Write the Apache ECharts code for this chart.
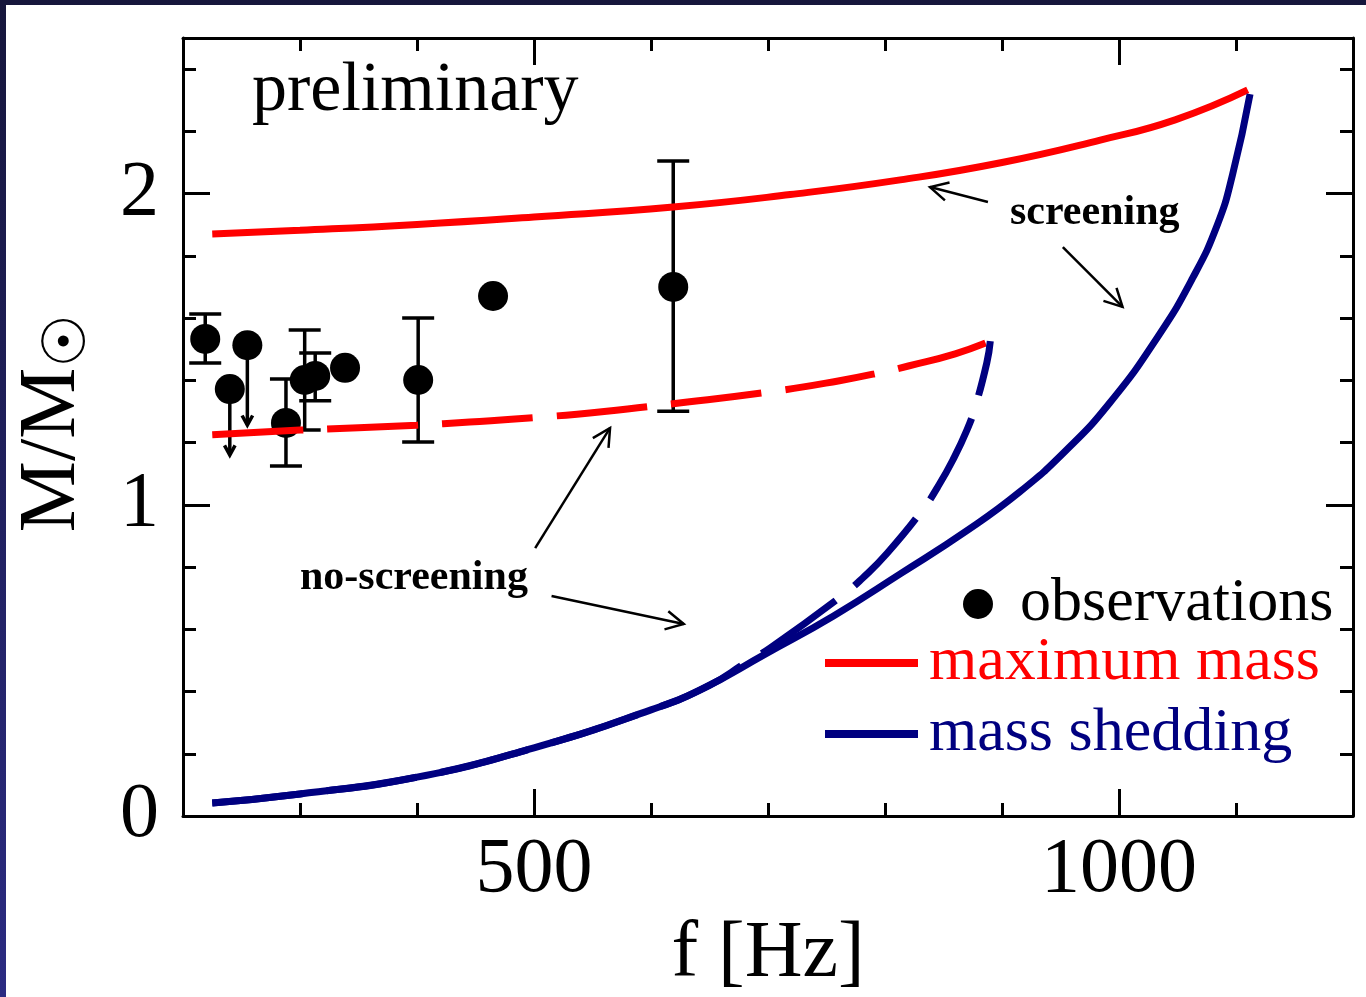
<!DOCTYPE html>
<html>
<head>
<meta charset="utf-8">
<title>M/M vs f</title>
<script src="https://cdn.jsdelivr.net/npm/echarts@6/dist/echarts.min.js"></script>
<style>
    html, body {
        margin: 0;
        padding: 0;
        width: 1366px;
        height: 997px;
        overflow: hidden;
        background: linear-gradient(to bottom, #16163c, #2b2b82);
    }
    #paper {
        position: absolute;
        left: 6px;
        top: 5px;
        width: 1360px;
        height: 992px;
        background: #fff;
    }
    #chart {
        position: absolute;
        left: 0;
        top: 0;
        width: 1366px;
        height: 997px;
    }
</style>
</head>
<body>
<div id="paper"></div>
<div id="chart"></div>
<script>
// axis ticks and labels
const xMinorTicks = [300, 400, 600, 700, 800, 900, 1100];
const xMajorTicks = [500, 1000];
const xLabels = [500, 1000];
const yMinorTicks = [0.2, 0.4, 0.6, 0.8, 1.2, 1.4, 1.6, 1.8, 2.2, 2.4];
const yMajorTicks = [1, 2];
const yLabels = [0, 1, 2];

// maximum mass, with screening (solid) and without (dashed)
const maxMassF = [225, 300, 400, 500, 619, 719, 813, 900, 984, 1048, 1110];
const maxMassM = [1.870, 1.882, 1.901, 1.925, 1.957, 1.997, 2.044, 2.100, 2.172, 2.237, 2.333];
const maxMassNoScrF = [225, 300, 400, 445, 500, 560, 619, 700, 760, 800, 820, 860, 890];
const maxMassNoScrM = [1.225, 1.240, 1.256, 1.266, 1.280, 1.300, 1.325, 1.362, 1.398, 1.428, 1.446, 1.485, 1.526];

// mass shedding, with screening (solid) and without (dashed)
const sheddingF = [225, 300, 400, 500, 600, 642, 698, 756, 813, 870, 915, 954, 992, 1033, 1063, 1084, 1097, 1112];
const sheddingM = [0.042, 0.071, 0.125, 0.219, 0.341, 0.405, 0.521, 0.643, 0.778, 0.917, 1.041, 1.172, 1.327, 1.539, 1.729, 1.899, 2.060, 2.320];
const sheddingNoScrF = [225, 300, 400, 500, 600, 650, 682, 702, 764, 781, 802, 832, 845, 858, 870, 877, 887, 890];
const sheddingNoScrM = [0.042, 0.071, 0.125, 0.219, 0.341, 0.420, 0.495, 0.540, 0.710, 0.765, 0.845, 0.983, 1.057, 1.144, 1.240, 1.314, 1.456, 1.526];

// observations
const obsF = [219, 240, 255, 288, 304, 313, 338.5, 401, 465, 619];
const obsM = [1.533, 1.372, 1.513, 1.263, 1.401, 1.414, 1.440, 1.401, 1.671, 1.700];
const errF = [219, 288, 304, 313, 401, 619];
const errLow = [1.456, 1.125, 1.240, 1.334, 1.202, 1.301];
const errHigh = [1.613, 1.404, 1.562, 1.488, 1.600, 2.105];
const limitF = [240, 255];
const limitM = [1.372, 1.513];
const limitEnd = [1.160, 1.256];

// annotation arrows: from (f, M) to (f, M)
const noteFromF = [888, 952, 501, 515];
const noteFromM = [1.973, 1.828, 0.861, 0.707];
const noteToF = [838.5, 1003, 565, 628];
const noteToM = [2.021, 1.636, 1.247, 0.617];

const SERIF = "Liberation Serif";
const RED = "#ff0000";
const NAVY = "#000080";
const DASH = [91, 24];

const chart = echarts.init(document.getElementById("chart"));

const zip = (xs, ys) => xs.map((x, i) => [x, ys[i]]);

function arrowHead(tip, from, arm, angle) {
    const a = Math.atan2(from[1] - tip[1], from[0] - tip[0]);
    return [
        [tip[0] + arm * Math.cos(a + angle), tip[1] + arm * Math.sin(a + angle)],
        tip,
        [tip[0] + arm * Math.cos(a - angle), tip[1] + arm * Math.sin(a - angle)]
    ];
}

function renderErrorBar(params, api) {
    const hi = api.coord([api.value(0), api.value(2)]);
    const lo = api.coord([api.value(0), api.value(1)]);
    const cap = 16;
    const style = {stroke: "#000", lineWidth: 3.5};
    return {
        type: "group",
        children: [
            {type: "line", shape: {x1: hi[0], y1: hi[1], x2: lo[0], y2: lo[1]}, style},
            {type: "line", shape: {x1: hi[0] - cap, y1: hi[1], x2: hi[0] + cap, y2: hi[1]}, style},
            {type: "line", shape: {x1: lo[0] - cap, y1: lo[1], x2: lo[0] + cap, y2: lo[1]}, style}
        ]
    };
}

function renderLimit(params, api) {
    const start = api.coord([api.value(0), api.value(1)]);
    const end = api.coord([api.value(0), api.value(2)]);
    const style = {stroke: "#000", lineWidth: 3.5, fill: null};
    return {
        type: "group",
        children: [
            {type: "line", shape: {x1: start[0], y1: start[1], x2: end[0], y2: end[1]}, style},
            {type: "polyline", shape: {points: arrowHead(end, start, 11, 0.5)}, style}
        ]
    };
}

function renderNote(params, api) {
    const from = api.coord([api.value(0), api.value(1)]);
    const to = api.coord([api.value(2), api.value(3)]);
    const style = {stroke: "#000", lineWidth: 2.5, fill: null};
    return {
        type: "group",
        children: [
            {type: "line", shape: {x1: from[0], y1: from[1], x2: to[0], y2: to[1]}, style},
            {type: "polyline", shape: {points: arrowHead(to, from, 20, 0.48)}, style}
        ]
    };
}

const axisLineStyle = {show: true, onZero: false, lineStyle: {color: "#000", width: 3}};
const noLine = {show: false, onZero: false};

function xAxisOf(position, ticks, length, withLine, withLabel) {
    return {
        type: "value",
        position,
        min: 200,
        max: 1200,
        axisLine: withLine ? axisLineStyle : noLine,
        axisTick: {show: true, inside: true, length, customValues: ticks, lineStyle: {color: "#000", width: 3}},
        axisLabel: withLabel ? {
            show: true,
            customValues: xLabels,
            formatter: value => String(value),
            fontFamily: SERIF,
            fontSize: 78,
            color: "#000",
            margin: 16
        } : {show: false},
        splitLine: {show: false}
    };
}

function yAxisOf(position, ticks, length, withLine, withLabel) {
    return {
        type: "value",
        position,
        min: 0,
        max: 2.5,
        axisLine: withLine ? axisLineStyle : noLine,
        axisTick: {show: true, inside: true, length, customValues: ticks, lineStyle: {color: "#000", width: 3}},
        axisLabel: withLabel ? {
            show: true,
            customValues: yLabels,
            formatter: value => String(value),
            fontFamily: SERIF,
            fontSize: 78,
            color: "#000",
            margin: 24
        } : {show: false},
        splitLine: {show: false}
    };
}

const xBottom = xAxisOf("bottom", xMinorTicks, 13, true, true);
xBottom.name = "f [Hz]";
xBottom.nameLocation = "middle";
xBottom.nameGap = 94;
xBottom.nameTextStyle = {fontFamily: SERIF, fontSize: 80, color: "#000"};

const yLeft = yAxisOf("left", yMinorTicks, 13, true, true);
yLeft.name = "{m|M/M}{s|☉}";
yLeft.nameLocation = "middle";
yLeft.nameGap = 84;
yLeft.nameRotate = 90;
yLeft.nameTextStyle = {
    fontFamily: SERIF,
    fontSize: 80,
    color: "#000",
    rich: {
        m: {fontFamily: SERIF, fontSize: 80, color: "#000", padding: [0, 0, 6, 8]},
        s: {fontFamily: "DejaVu Sans", fontSize: 60, color: "#000", verticalAlign: "bottom"}
    }
};

const lineSeries = (name, xs, ys, color, type) => ({
    name,
    type: "line",
    data: zip(xs, ys),
    smooth: 0.5,
    showSymbol: false,
    symbol: "none",
    z: 4,
    itemStyle: {color},
    lineStyle: {color, width: 7, type, cap: "butt"}
});

chart.setOption({
    animation: false,
    backgroundColor: "transparent",
    grid: {left: 183, right: 13, top: 38, bottom: 181, containLabel: false, outerBoundsMode: "none"},
    xAxis: [
        xBottom,
        xAxisOf("bottom", xMajorTicks, 27, false, false),
        xAxisOf("top", xMinorTicks, 13, true, false),
        xAxisOf("top", xMajorTicks, 27, false, false)
    ],
    yAxis: [
        yLeft,
        yAxisOf("left", yMajorTicks, 27, false, false),
        yAxisOf("right", yMinorTicks, 13, true, false),
        yAxisOf("right", yMajorTicks, 27, false, false)
    ],
    legend: [
        {
            data: ["observations"],
            left: 963,
            top: 573,
            padding: 0,
            icon: "circle",
            itemWidth: 30,
            itemHeight: 30,
            selectedMode: false,
            itemStyle: {opacity: 1},
            textStyle: {fontFamily: SERIF, fontSize: 62, color: "#000", padding: [0, 0, 0, 22]}
        },
        {
            data: ["maximum mass"],
            left: 825,
            top: 632,
            padding: 0,
            icon: "rect",
            itemWidth: 93,
            itemHeight: 8,
            selectedMode: false,
            textStyle: {fontFamily: SERIF, fontSize: 62, color: RED, padding: [0, 0, 0, 6]}
        },
        {
            data: ["mass shedding"],
            left: 825,
            top: 703,
            padding: 0,
            icon: "rect",
            itemWidth: 93,
            itemHeight: 8,
            selectedMode: false,
            textStyle: {fontFamily: SERIF, fontSize: 62, color: NAVY, padding: [0, 0, 0, 6]}
        }
    ],
    graphic: [
        {type: "text", x: 252, y: 92, style: {text: "preliminary", font: `70px "${SERIF}"`, fill: "#000", verticalAlign: "middle"}},
        {type: "text", x: 1010, y: 213, style: {text: "screening", font: `bold 42px "${SERIF}"`, fill: "#000", verticalAlign: "middle"}},
        {type: "text", x: 300, y: 578, style: {text: "no-screening", font: `bold 42px "${SERIF}"`, fill: "#000", verticalAlign: "middle"}}
    ],
    series: [
        {
            name: "error bars",
            type: "custom",
            renderItem: renderErrorBar,
            data: errF.map((f, i) => [f, errLow[i], errHigh[i]]),
            encode: {x: 0, y: [1, 2]},
            z: 2
        },
        {
            name: "upper limits",
            type: "custom",
            renderItem: renderLimit,
            data: limitF.map((f, i) => [f, limitM[i], limitEnd[i]]),
            encode: {x: 0, y: [1, 2]},
            z: 2
        },
        {
            name: "observations",
            type: "scatter",
            data: zip(obsF, obsM),
            symbol: "circle",
            symbolSize: 30,
            itemStyle: {color: "#000", opacity: 1},
            z: 3
        },
        lineSeries("maximum mass", maxMassF, maxMassM, RED, "solid"),
        lineSeries("maximum mass, no screening", maxMassNoScrF, maxMassNoScrM, RED, DASH),
        lineSeries("mass shedding", sheddingF, sheddingM, NAVY, "solid"),
        lineSeries("mass shedding, no screening", sheddingNoScrF, sheddingNoScrM, NAVY, DASH),
        {
            name: "annotations",
            type: "custom",
            renderItem: renderNote,
            data: noteFromF.map((f, i) => [f, noteFromM[i], noteToF[i], noteToM[i]]),
            encode: {x: [0, 2], y: [1, 3]},
            z: 5
        }
    ]
});
</script>
</body>
</html>
